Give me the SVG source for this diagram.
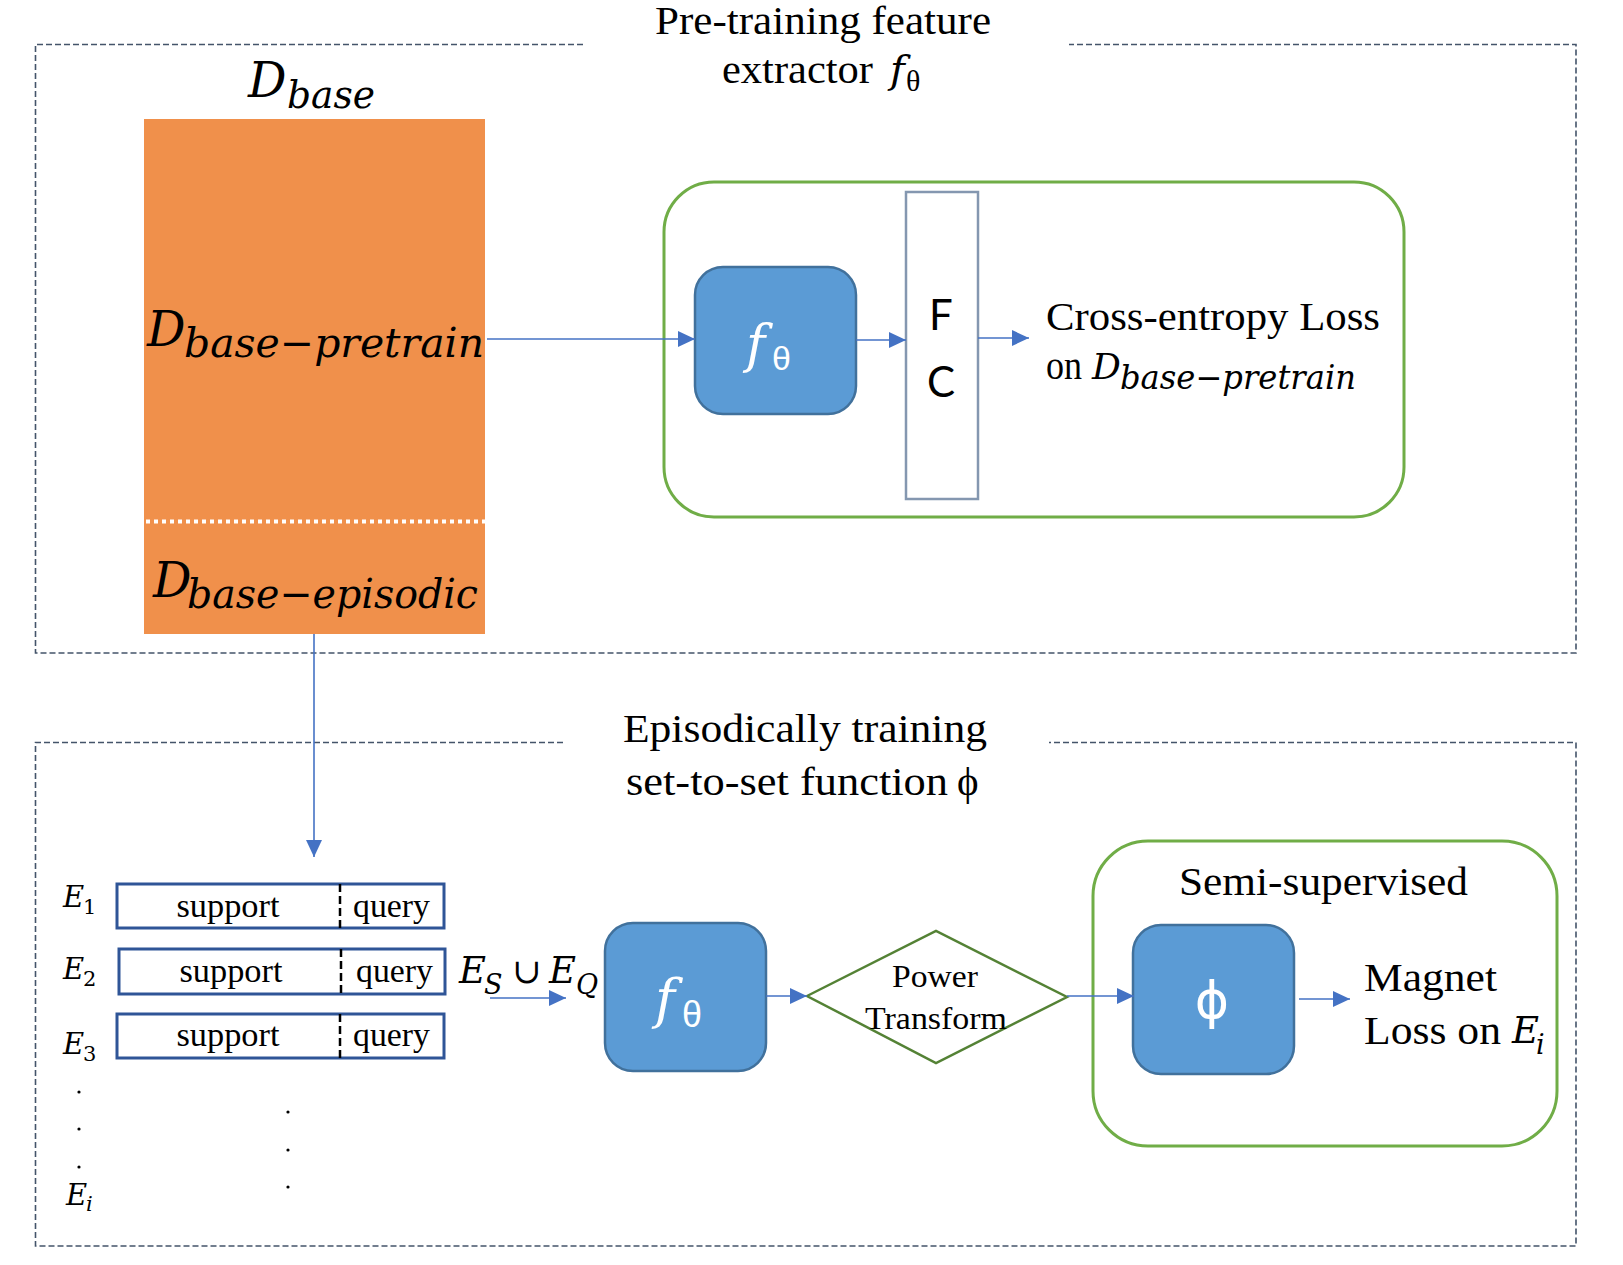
<svg xmlns="http://www.w3.org/2000/svg" width="1623" height="1265" viewBox="0 0 1623 1265">
<style>
.panel{fill:none;stroke:#44546A;stroke-width:1.6;stroke-dasharray:6 3}
.conn{fill:none;stroke:#4472C4;stroke-width:1.6}
.blue{fill:#5B9BD5;stroke:#41719C;stroke-width:2.5}
.green{fill:none;stroke:#70AD47;stroke-width:3}
.ep{fill:#fff;stroke:#2F5597;stroke-width:3}
.sep{stroke:#000;stroke-width:2.5;stroke-dasharray:8 4}
.tm{font-family:"Liberation Serif","Times New Roman",serif;fill:#000}
.mi{font-family:"DejaVu Serif",serif;font-style:italic;fill:#000}
.mr{font-family:"DejaVu Serif",serif;fill:#000}
.sans{font-family:"Lato","Liberation Sans",sans-serif;fill:#000}
.w{fill:#fff}
</style>
<defs>
<marker id="ah" markerWidth="17" markerHeight="16" refX="17" refY="8" orient="auto" markerUnits="userSpaceOnUse">
<path d="M0,0 L17,8 L0,16 z" fill="#4472C4"/>
</marker>
</defs>
<rect width="1623" height="1265" fill="#fff"/>

<g id="panel-pretrain">
<path class="panel" d="M583,44.5 H35.5 V653 H1576 V44.5 H1069"/>
<text class="tm" x="655" y="34" font-size="40" textLength="336" lengthAdjust="spacingAndGlyphs">Pre-training feature</text>
<text class="tm" x="722" y="83" font-size="40" textLength="151" lengthAdjust="spacingAndGlyphs">extractor</text>
<text class="mi" x="890" y="83" font-size="40">f</text>
<text class="tm" x="906" y="91" font-size="30">θ</text>
</g>

<g id="panel-episodic">
<path class="panel" d="M563,742.5 H35.5 V1246 H1576 V742.5 H1049"/>
<text class="tm" x="623" y="742" font-size="41" textLength="364" lengthAdjust="spacingAndGlyphs">Episodically training</text>
<text class="tm" x="626" y="795" font-size="41" textLength="322" lengthAdjust="spacingAndGlyphs">set-to-set function</text>
<text class="tm" x="957" y="795" font-size="41">ϕ</text>
</g>

<g id="node-dbase">
<text class="mi" x="248" y="97" font-size="48">D</text>
<text class="mi" x="287" y="108" font-size="40" textLength="88" lengthAdjust="spacingAndGlyphs">base</text>
<rect x="144" y="119" width="341" height="515" fill="#F0904B"/>
<line x1="146" y1="521.5" x2="485" y2="521.5" stroke="#fff" stroke-width="4" stroke-dasharray="4 4"/>
<text class="mi" x="147" y="346" font-size="48">D</text>
<text class="mi" x="184" y="357" font-size="41" textLength="300" lengthAdjust="spacingAndGlyphs">base−pretrain</text>
<text class="mi" x="153" y="597" font-size="48">D</text>
<text class="mi" x="187" y="608" font-size="41" textLength="291" lengthAdjust="spacingAndGlyphs">base−episodic</text>
</g>

<g id="group-pretrain">
<rect class="green" x="664" y="182" width="740" height="335" rx="50" ry="50"/>
</g>

<g id="node-ftheta1">
<rect class="blue" x="695" y="267" width="161" height="147" rx="28" ry="28"/>
<text class="mi w" x="746" y="362" font-size="52">f</text>
<text class="w" x="772" y="370" font-size="34" font-family="Liberation Sans, sans-serif">θ</text>
</g>

<g id="node-fc">
<rect x="906" y="192" width="72" height="307" fill="#fff" stroke="#8497B0" stroke-width="2.5"/>
<text class="sans" x="941" y="330" font-size="42" text-anchor="middle">F</text>
<text class="sans" x="941" y="397" font-size="42" text-anchor="middle">C</text>
</g>

<g id="node-celoss">
<text class="tm" x="1046" y="330" font-size="40" textLength="334" lengthAdjust="spacingAndGlyphs">Cross-entropy Loss</text>
<text class="tm" x="1046" y="379" font-size="40" textLength="36" lengthAdjust="spacingAndGlyphs">on</text>
<text class="mi" x="1092" y="379" font-size="36">D</text>
<text class="mi" x="1120" y="389" font-size="33" textLength="236" lengthAdjust="spacingAndGlyphs">base−pretrain</text>
</g>

<g id="node-episodes">
<rect class="ep" x="117" y="884" width="327" height="44"/>
<line class="sep" x1="340" y1="884" x2="340" y2="928"/>
<text class="tm" x="228" y="917" font-size="33" text-anchor="middle" textLength="103" lengthAdjust="spacingAndGlyphs">support</text>
<text class="tm" x="353" y="917" font-size="33" textLength="77" lengthAdjust="spacingAndGlyphs">query</text>

<rect class="ep" x="119" y="949" width="326" height="45"/>
<line class="sep" x1="341" y1="949" x2="341" y2="994"/>
<text class="tm" x="231" y="982" font-size="33" text-anchor="middle" textLength="103" lengthAdjust="spacingAndGlyphs">support</text>
<text class="tm" x="356" y="982" font-size="33" textLength="77" lengthAdjust="spacingAndGlyphs">query</text>

<rect class="ep" x="117" y="1014" width="327" height="44"/>
<line class="sep" x1="340" y1="1014" x2="340" y2="1058"/>
<text class="tm" x="228" y="1046" font-size="33" text-anchor="middle" textLength="103" lengthAdjust="spacingAndGlyphs">support</text>
<text class="tm" x="353" y="1046" font-size="33" textLength="77" lengthAdjust="spacingAndGlyphs">query</text>

<text class="mi" x="63" y="907" font-size="29">E</text>
<text class="mr" x="83" y="914" font-size="21">1</text>
<text class="mi" x="63" y="979" font-size="29">E</text>
<text class="mr" x="83" y="986" font-size="21">2</text>
<text class="mi" x="63" y="1054" font-size="29">E</text>
<text class="mr" x="83" y="1061" font-size="21">3</text>
<circle cx="79" cy="1092" r="1.6"/>
<circle cx="79" cy="1129" r="1.6"/>
<circle cx="79" cy="1167" r="1.6"/>
<text class="mi" x="66" y="1205" font-size="29">E</text>
<text class="mi" x="86" y="1211" font-size="21">i</text>
<circle cx="288" cy="1112" r="1.6"/>
<circle cx="288" cy="1150" r="1.6"/>
<circle cx="288" cy="1187" r="1.6"/>
</g>

<g id="label-esq">
<text class="mi" x="459" y="983" font-size="37">E</text>
<text class="mi" x="484" y="994" font-size="27">S</text>
<text class="mr" x="512" y="983" font-size="35">∪</text>
<text class="mi" x="549" y="983" font-size="37">E</text>
<text class="mi" x="576" y="994" font-size="27">Q</text>
</g>

<g id="node-ftheta2">
<rect class="blue" x="605" y="923" width="161" height="148" rx="28" ry="28"/>
<text class="mi w" x="655" y="1018" font-size="54">f</text>
<text class="w" x="682" y="1027" font-size="36" font-family="Liberation Sans, sans-serif">θ</text>
</g>

<g id="node-power">
<polygon points="807,996 936,931 1067,997 936,1063" fill="#fff" stroke="#548235" stroke-width="2.5"/>
<text class="tm" x="935" y="987" font-size="32" text-anchor="middle" textLength="86" lengthAdjust="spacingAndGlyphs">Power</text>
<text class="tm" x="865" y="1029" font-size="32" textLength="142" lengthAdjust="spacingAndGlyphs">Transform</text>
</g>

<g id="group-semi">
<rect class="green" x="1093" y="841" width="464" height="305" rx="55" ry="55"/>
<text class="tm" x="1179" y="895" font-size="41" textLength="289" lengthAdjust="spacingAndGlyphs">Semi-supervised</text>
</g>

<g id="node-phi">
<rect class="blue" x="1133" y="925" width="161" height="149" rx="28" ry="28"/>
<text class="w" x="1212" y="1018" font-size="52" text-anchor="middle" font-family="DejaVu Sans, sans-serif">ϕ</text>
</g>

<g id="node-magnet">
<text class="tm" x="1364" y="991" font-size="41" textLength="133" lengthAdjust="spacingAndGlyphs">Magnet</text>
<text class="tm" x="1364" y="1044" font-size="41" textLength="137" lengthAdjust="spacingAndGlyphs">Loss on</text>
<text class="mi" x="1512" y="1043" font-size="37">E</text>
<text class="mi" x="1536" y="1054" font-size="27">i</text>
</g>

<g id="connectors">
<line class="conn" x1="487" y1="339" x2="695" y2="339" marker-end="url(#ah)"/>
<line class="conn" x1="856" y1="340" x2="906" y2="340" marker-end="url(#ah)"/>
<line class="conn" x1="978" y1="338" x2="1029" y2="338" marker-end="url(#ah)"/>
<line class="conn" x1="314" y1="634" x2="314" y2="857" marker-end="url(#ah)"/>
<line class="conn" x1="490" y1="998" x2="566" y2="998" marker-end="url(#ah)"/>
<line class="conn" x1="766" y1="996" x2="807" y2="996" marker-end="url(#ah)"/>
<line class="conn" x1="1067" y1="996" x2="1134" y2="996" marker-end="url(#ah)"/>
<line class="conn" x1="1299" y1="999" x2="1350" y2="999" marker-end="url(#ah)"/>
</g>
</svg>
